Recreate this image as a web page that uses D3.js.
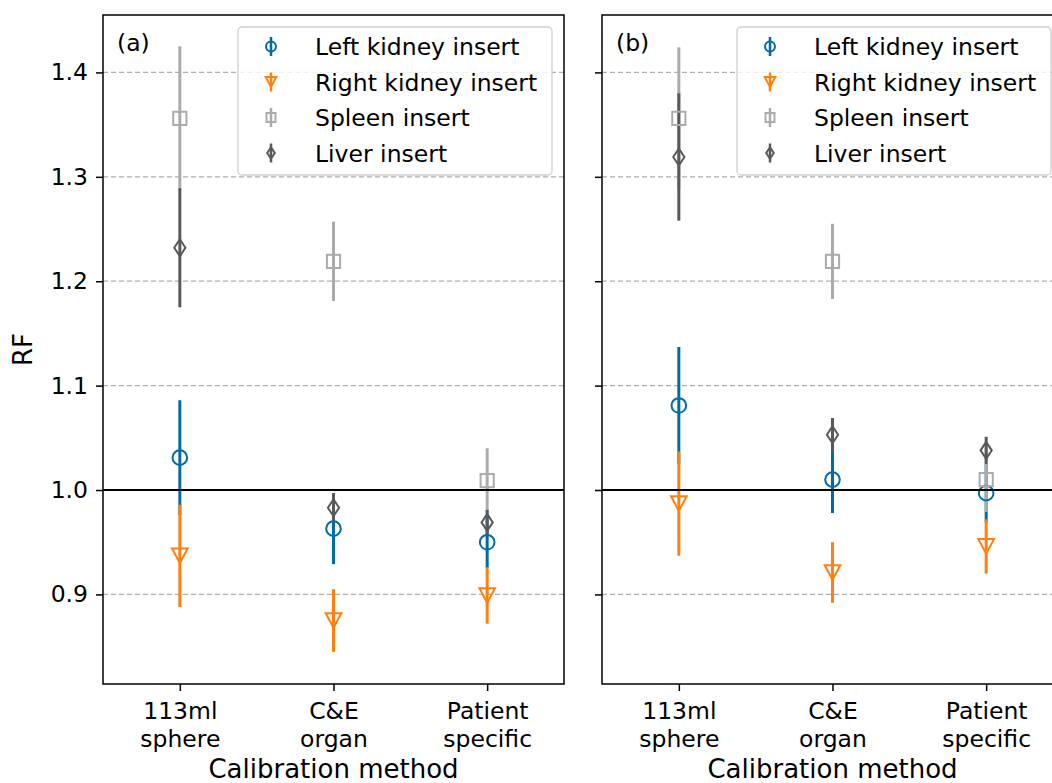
<!DOCTYPE html>
<meta charset="utf-8">
<style>
body { margin: 0; background: #fff; }
svg { display: block; font-family: "DejaVu Sans", sans-serif; }
.grid line { stroke: #b0b0b0; stroke-width: 1.3; stroke-dasharray: 5,3; }
.tick text { fill: #000; }
</style>
<body>
<script src="https://d3js.org/d3.v7.min.js"></script>
<script>

// categories and series
var categories = ["113ml\nsphere", "C&E\norgan", "Patient\nspecific"];
var seriesNames = ["Left kidney insert", "Right kidney insert", "Spleen insert", "Liver insert"];
var seriesColors = ["#006BA4", "#FF800E", "#ABABAB", "#595959"];
var seriesMarkers = ["circle", "triangle", "square", "diamond"];
var yTicks = [0.9, 1.0, 1.1, 1.2, 1.3, 1.4];
var panelLabels = ["(a)", "(b)"];

// panel (a) values and errors
var leftKidneyA = [1.031, 0.963, 0.950];
var leftKidneyAErr = [0.055, 0.034, 0.025];
var rightKidneyA = [0.937, 0.875, 0.899];
var rightKidneyAErr = [0.049, 0.030, 0.027];
var spleenA = [1.356, 1.219, 1.009];
var spleenAErr = [0.069, 0.038, 0.031];
var liverA = [1.232, 0.983, 0.969];
var liverAErr = [0.057, 0.014, 0.012];

// panel (b) values and errors
var leftKidneyB = [1.081, 1.010, 0.997];
var leftKidneyBErr = [0.056, 0.032, 0.028];
var rightKidneyB = [0.987, 0.921, 0.946];
var rightKidneyBErr = [0.050, 0.029, 0.026];
var spleenB = [1.356, 1.219, 1.010];
var spleenBErr = [0.068, 0.036, 0.031];
var liverB = [1.319, 1.053, 1.038];
var liverBErr = [0.061, 0.016, 0.013];

var panels = [
  { vals: [leftKidneyA, rightKidneyA, spleenA, liverA],
    errs: [leftKidneyAErr, rightKidneyAErr, spleenAErr, liverAErr], left: 103, showY: true },
  { vals: [leftKidneyB, rightKidneyB, spleenB, liverB],
    errs: [leftKidneyBErr, rightKidneyBErr, spleenBErr, liverBErr], left: 602, showY: false }
];

var W = 1052, H = 783;
var plotTop = 15, plotBottom = 684, pw = 461;
var FONT = "'DejaVu Sans', sans-serif";

var svg = d3.select("body").append("svg")
    .attr("width", W)
    .attr("height", H);

var y = d3.scaleLinear().domain([0.8142, 1.455]).range([plotBottom, plotTop]);

// marker drawing
function drawMarker(g, type, cx, cy, color, s) {
  var m;
  if (type === "circle") {
    m = g.append("circle").attr("cx", cx).attr("cy", cy).attr("r", 7.3 * s);
  } else if (type === "triangle") {
    m = g.append("path").attr("d", "M" + (cx - 7.8 * s) + "," + (cy - 7.3 * s) +
      "L" + (cx + 7.8 * s) + "," + (cy - 7.3 * s) + "L" + cx + "," + (cy + 7.3 * s) + "Z");
  } else if (type === "square") {
    m = g.append("rect").attr("x", cx - 6.6 * s).attr("y", cy - 6.6 * s)
      .attr("width", 13.2 * s).attr("height", 13.2 * s);
  } else {
    m = g.append("path").attr("d", "M" + cx + "," + (cy - 8.5 * s) + "L" + (cx + 5.6 * s) + "," + cy +
      "L" + cx + "," + (cy + 8.5 * s) + "L" + (cx - 5.6 * s) + "," + cy + "Z");
  }
  m.attr("fill", "none").attr("stroke", color).attr("stroke-width", 2);
}

panels.forEach(function(p, pi) {
  var x = d3.scalePoint().domain(categories).range([p.left, p.left + pw]).padding(0.5);
  var g = svg.append("g");

  // gridlines
  g.append("g")
      .attr("class", "grid")
      .selectAll("line")
      .data(yTicks)
    .enter().append("line")
      .attr("x1", p.left).attr("x2", p.left + pw)
      .attr("y1", function(d) { return y(d); })
      .attr("y2", function(d) { return y(d); });

  // error bars first, then markers
  p.vals.forEach(function(vals, si) {
    g.selectAll(null)
        .data(vals)
      .enter().append("line")
        .attr("x1", function(d, i) { return x(categories[i]); })
        .attr("x2", function(d, i) { return x(categories[i]); })
        .attr("y1", function(d, i) { return y(d - p.errs[si][i]); })
        .attr("y2", function(d, i) { return y(d + p.errs[si][i]); })
        .attr("stroke", seriesColors[si])
        .attr("stroke-width", 3);
  });
  p.vals.forEach(function(vals, si) {
    vals.forEach(function(d, i) {
      drawMarker(g, seriesMarkers[si], x(categories[i]), y(d), seriesColors[si], 1);
    });
  });

  // reference line at 1.0
  g.append("line")
      .attr("x1", p.left).attr("x2", p.left + pw)
      .attr("y1", y(1)).attr("y2", y(1))
      .attr("stroke", "#000").attr("stroke-width", 2);

  // y axis
  var ya = g.append("g")
      .attr("transform", "translate(" + p.left + ",0)")
      .call(d3.axisLeft(y).tickValues(yTicks).tickSize(7).tickPadding(8)
        .tickFormat(p.showY ? d3.format(".1f") : function() { return ""; }))
      .attr("font-family", FONT).attr("font-size", "23.5px");
  ya.select(".domain").remove();
  ya.selectAll(".tick line").attr("stroke-width", 1.5);

  // x axis
  var xa = g.append("g")
      .attr("transform", "translate(0," + plotBottom + ")")
      .call(d3.axisBottom(x).tickSize(7).tickFormat(""))
      .attr("font-family", FONT).attr("font-size", "23.5px");
  xa.select(".domain").remove();
  xa.selectAll(".tick line").attr("stroke-width", 1.5);
  xa.selectAll(".tick").each(function(d) {
    var t = d3.select(this).append("text")
        .attr("text-anchor", "middle")
        .attr("fill", "#000");
    d.split("\n").forEach(function(line, li) {
      t.append("tspan").attr("x", 0).attr("y", 35 + li * 27.5).text(line);
    });
  });

  // frame
  g.append("rect")
      .attr("x", p.left).attr("y", plotTop)
      .attr("width", pw).attr("height", plotBottom - plotTop)
      .attr("fill", "none").attr("stroke", "#000").attr("stroke-width", 1.5);

  // panel label
  g.append("text")
      .attr("x", p.left + 14).attr("y", 51)
      .style("font-size", "23.5px")
      .text(panelLabels[pi]);

  // legend
  var lg = g.append("g").attr("transform", "translate(" + (p.left + 135) + ",27)");
  lg.append("rect")
      .attr("width", 314).attr("height", 148).attr("rx", 4)
      .attr("fill", "#fff").attr("fill-opacity", 0.8)
      .attr("stroke", "#d0d0d0").attr("stroke-width", 1.3);
  seriesNames.forEach(function(name, si) {
    var cy = 19.5 + si * 35.5;
    lg.append("line")
        .attr("x1", 33).attr("x2", 33)
        .attr("y1", cy - 9.5).attr("y2", cy + 9.5)
        .attr("stroke", seriesColors[si]).attr("stroke-width", 2.5);
    drawMarker(lg, seriesMarkers[si], 33, cy, seriesColors[si], 0.68);
    lg.append("text")
        .attr("x", 77).attr("y", cy + 8.5)
        .style("font-size", "23.5px")
        .text(name);
  });

  // x label
  g.append("text")
      .attr("x", p.left + pw / 2).attr("y", 778)
      .attr("text-anchor", "middle")
      .style("font-size", "26px")
      .text("Calibration method");
});

// y label
svg.append("text")
    .attr("transform", "translate(32," + ((plotTop + plotBottom) / 2) + ") rotate(-90)")
    .attr("text-anchor", "middle")
    .style("font-size", "26px")
    .text("RF");

</script>
</body>
